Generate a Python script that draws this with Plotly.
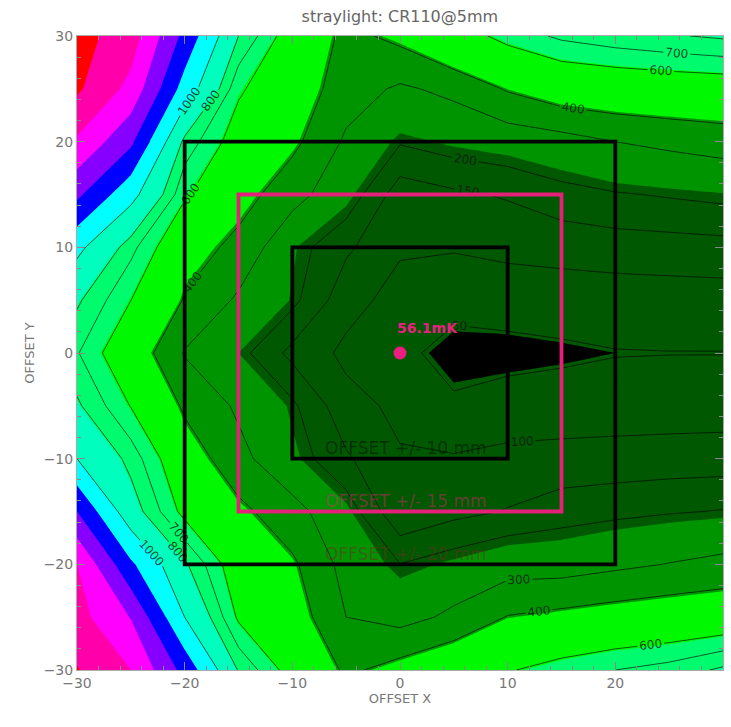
import math
import plotly.graph_objects as go

# Offset grid (mm)
x_mm = [-30, -25, -20, -15, -10, -5, 0, 5, 10, 15, 20, 25, 30]
y_mm = [30, 25, 20, 15, 10, 5, 0, -5, -10, -15, -20, -25, -30]

# Straylight (mK) on the offset grid; first row is OFFSET Y = +30
straylight_mk = [
    [2080, 1907, 1350, 800, 520, 370, 428, 532, 640, 720, 760, 790, 816],
    [2040, 1750, 1124, 620, 475, 343, 286, 323, 410, 470, 490, 505, 516],
    [1780, 1450, 764, 530, 426, 285, 205, 226, 240, 262, 300, 320, 340],
    [1450, 1068, 619, 448, 335, 235, 122, 141, 155, 180, 195, 205, 215],
    [1050, 733, 459, 368, 224, 159, 106, 105, 113, 119, 125, 128, 132],
    [820, 601, 390, 285, 214, 118, 82, 58, 70, 72, 74, 76, 77],
    [709, 478, 293, 218, 135, 89, 56.1, 41, 36, 42, 48, 49, 49],
    [820, 595, 380, 285, 210, 116, 90, 53.5, 68, 70, 73, 75, 77],
    [1000, 760, 470, 327, 229, 157, 104, 105, 114, 118, 120, 122, 123],
    [1408, 870, 560, 428, 333, 230, 107, 135, 153, 175, 185, 195, 203],
    [1808, 1243, 820, 505, 418, 265, 201, 227, 255, 255, 280, 303, 324],
    [1880, 1600, 1000, 580, 460, 300, 265, 320, 405, 428, 450, 470, 489],
    [2020, 1810, 1340, 790, 540, 380, 440, 500, 590, 650, 700, 740, 820],
]

# Filled band edges and colours (below first edge is black)
fill_edges = [48, 218, 408, 608, 808, 1008, 1208, 1408, 1608, 1808, 2008]
band_colors = [
    "rgb(0,0,0)", "rgb(0,88,0)", "rgb(0,148,0)", "rgb(0,248,0)",
    "rgb(0,252,110)", "rgb(0,255,190)", "rgb(0,255,255)", "rgb(0,0,255)",
    "rgb(135,0,255)", "rgb(255,0,255)", "rgb(255,0,170)", "rgb(255,0,0)",
]

# Labelled contour lines
line_levels = [50, 100, 150, 200, 300, 400, 600, 700, 800, 1000]

# Offset boxes: half-width (mm), colour
box_half = [20, 15, 10]
box_colors = ["black", "rgb(228,32,122)", "black"]
box_text = ["OFFSET +/- 20 mm", "OFFSET +/- 15 mm", "OFFSET +/- 10 mm"]
box_text_colors = ["rgba(120,40,40,0.45)", "rgba(228,32,122,0.45)", "rgba(0,0,0,0.45)"]

# Reference point
centre_x, centre_y = 0, 0
centre_val = straylight_mk[y_mm.index(centre_y)][x_mm.index(centre_x)]

# ascending y for the contour traces
y_asc = y_mm[::-1]
z_asc = straylight_mk[::-1]

# stepped colour scale on a fine uniform level grid
lvl_start, lvl_size, lvl_end = 3, 5, 2203
n_lvl = math.floor((lvl_end - lvl_start) / lvl_size) + 1


def cs_pos(v):
    return ((v - lvl_start) / lvl_size + 0.5) / n_lvl


colorscale = [[0.0, band_colors[0]]]
for i, e in enumerate(fill_edges):
    p = cs_pos(e)
    colorscale.append([p, band_colors[i]])
    colorscale.append([p, band_colors[i + 1]])
colorscale.append([1.0, band_colors[-1]])

fig = go.Figure()
fig.add_trace(go.Contour(
    x=x_mm, y=y_asc, z=z_asc,
    autocontour=False,
    contours=dict(start=lvl_start, end=lvl_end, size=lvl_size, coloring="fill"),
    colorscale=colorscale,
    showscale=False,
    line=dict(width=0, smoothing=0),
    hoverinfo="skip",
))

for lv in line_levels:
    fig.add_trace(go.Contour(
        x=x_mm, y=y_asc, z=z_asc,
        autocontour=False,
        contours=dict(start=lv, end=lv, size=1, coloring="none",
                      showlabels=True,
                      labelfont=dict(size=12, color="rgba(20,20,20,0.8)",
                                     family="DejaVu Sans")),
        line=dict(color="rgba(0,0,0,0.8)", width=0.8, smoothing=0),
        showscale=False,
        hoverinfo="skip",
    ))

for h, c in zip(box_half, box_colors):
    fig.add_shape(type="rect", x0=-h, x1=h, y0=-h, y1=h,
                  line=dict(color=c, width=3.8), layer="above")

for h, t, c in zip(box_half, box_text, box_text_colors):
    fig.add_annotation(x=0.6, y=-h + 1.0, text=t, showarrow=False,
                       font=dict(size=17, color=c, family="DejaVu Sans"),
                       yanchor="middle")

fig.add_trace(go.Scatter(
    x=[centre_x], y=[centre_y], mode="markers",
    marker=dict(size=13, color="rgb(236,30,130)"),
    hoverinfo="skip", showlegend=False,
))
fig.add_annotation(x=centre_x + 2.6, y=centre_y + 2.4, text=f"<b>{centre_val:.1f}mK</b>",
                   showarrow=False,
                   font=dict(size=14, color="rgb(236,30,130)", family="DejaVu Sans"))

axis_common = dict(
    range=[-30, 30], tickmode="array", tickvals=[-30, -20, -10, 0, 10, 20, 30],
    ticks="inside", ticklen=8, tickwidth=1, tickcolor="#888",
    minor=dict(ticks="inside", ticklen=4, dtick=2, tickcolor="#888"),
    showline=True, linecolor="#aaa", linewidth=1, mirror="ticks",
    showgrid=False, zeroline=False,
    tickfont=dict(size=14, color="#777", family="DejaVu Sans"),
)

fig.update_layout(
    width=731, height=727,
    margin=dict(l=77, r=8, t=36, b=57),
    paper_bgcolor="white", plot_bgcolor="black",
    showlegend=False,
    title=dict(text="straylight: CR110@5mm", x=0.547, xanchor="center", y=0.985,
               yanchor="top", font=dict(size=16, color="#666", family="DejaVu Sans")),
    xaxis=dict(axis_common, title=dict(text="OFFSET X", standoff=4,
               font=dict(size=13, color="#777", family="DejaVu Sans"))),
    yaxis=dict(axis_common, title=dict(text="OFFSET Y", standoff=6,
               font=dict(size=13, color="#777", family="DejaVu Sans"))),
)

fig.write_html("out.html")
